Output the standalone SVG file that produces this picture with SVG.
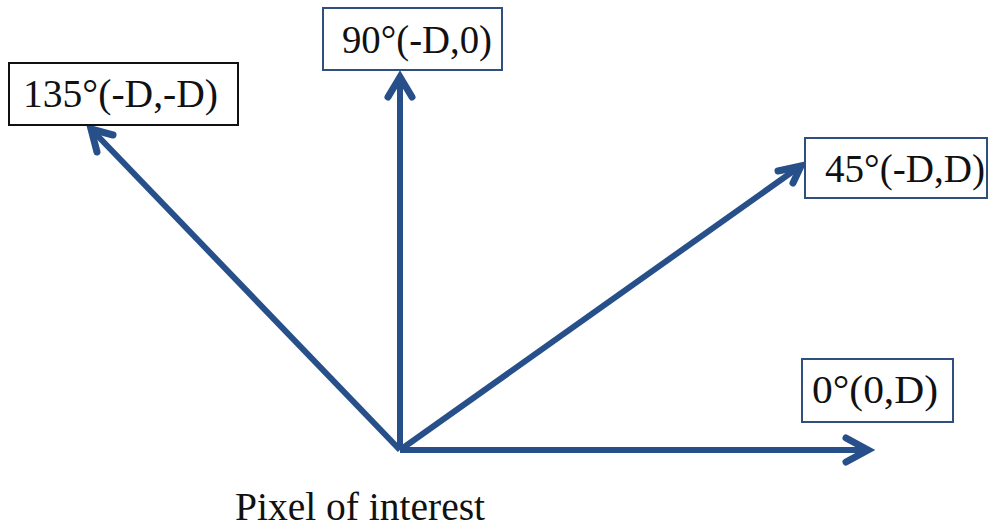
<svg xmlns="http://www.w3.org/2000/svg" width="991" height="529" viewBox="0 0 991 529">
<style>
.lbl{font-family:"Liberation Serif","Times New Roman","DejaVu Serif",serif;font-size:40px;fill:#111}
.box{fill:#fff;stroke-width:2}
.blue{stroke:#2f4f7f}
.black{stroke:#111}
.arr{stroke:#27508a;stroke-width:6;fill:none;stroke-linecap:butt}
.head{stroke:#27508a;stroke-width:7;fill:none;stroke-linecap:round;stroke-linejoin:miter}
</style>
<rect width="991" height="529" fill="#fff"/>
<g id="connectors">
  <path class="arr" d="M400,450 H866"/>
  <path class="head" d="M846,438 L868,450 L846,462"/>
  <path class="arr" d="M400,450 V80"/>
  <path class="head" d="M388,97 L400,77 L412,97"/>
  <path class="arr" d="M400,450 L92,130"/>
  <path class="head" d="M97,152 L91,129 L113,135"/>
  <path class="arr" d="M400,450 L799,167"/>
  <path class="head" d="M778,171 L801,166 L793,183"/>
</g>
<g id="n135">
  <rect class="box black" x="9" y="63" width="229" height="62"/>
  <text class="lbl" font-family="Liberation Serif, serif" x="23" y="107" textLength="195" lengthAdjust="spacingAndGlyphs">135°(-D,-D)</text>
</g>
<g id="n90">
  <rect class="box blue" x="323" y="8" width="179" height="62"/>
  <text class="lbl" font-family="Liberation Serif, serif" x="342" y="53" textLength="150" lengthAdjust="spacingAndGlyphs">90°(-D,0)</text>
</g>
<g id="n45">
  <rect class="box blue" x="805" y="138" width="182" height="60"/>
  <text class="lbl" font-family="Liberation Serif, serif" x="825" y="182" textLength="160" lengthAdjust="spacingAndGlyphs">45°(-D,D)</text>
</g>
<g id="n0">
  <rect class="box blue" x="802" y="359" width="151" height="63"/>
  <text class="lbl" font-family="Liberation Serif, serif" x="812" y="403" textLength="126" lengthAdjust="spacingAndGlyphs">0°(0,D)</text>
</g>
<g id="pixel">
  <text class="lbl" font-family="Liberation Serif, serif" x="235" y="520" font-size="37" textLength="250" lengthAdjust="spacingAndGlyphs">Pixel of interest</text>
</g>
</svg>
